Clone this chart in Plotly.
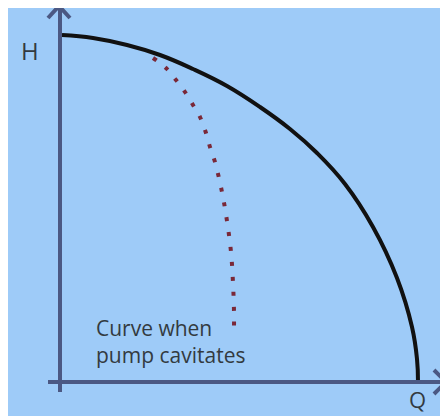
import plotly.graph_objects as go

# Normal pump curve (Q, H) in arbitrary units, origin at axes intersection
pump_q = [2, 33, 67, 100, 133, 167, 200, 230, 257, 285, 313, 337, 352, 357, 358]
pump_h = [347, 344, 337, 327, 313, 296, 275, 253, 229, 198, 155, 104, 55, 23, 0]

# Curve when pump cavitates
cav_q = [93, 106, 116, 125, 133, 140, 146, 150, 155, 162, 167, 171, 173, 174, 174]
cav_h = [324, 314, 302, 290, 277, 265, 249, 235, 220, 190, 161, 130, 99, 70, 54]

x_label = "Q"
y_label = "H"
note = "Curve when<br>pump cavitates"

BG = "#9ecbf8"
AXIS = "#4b5883"

fig = go.Figure()
fig.add_trace(go.Scatter(x=pump_q, y=pump_h, mode="lines",
                         line=dict(color="#111111", width=4, shape="spline", smoothing=1.2),
                         hoverinfo="skip"))
fig.add_trace(go.Scatter(x=cav_q, y=cav_h, mode="lines",
                         line=dict(color="#7a2838", width=4, shape="spline", dash="4px,11px"),
                         hoverinfo="skip"))

shapes = [
    dict(type="line", x0=0, y0=-10, x1=0, y1=376, line=dict(color=AXIS, width=4)),
    dict(type="line", x0=-12, y0=0, x1=386, y1=0, line=dict(color=AXIS, width=4)),
    dict(type="path", path="M -12,364 L -1,376 L 10,364", line=dict(color=AXIS, width=4)),
    dict(type="path", path="M 374,12 L 386,0 L 374,-12", line=dict(color=AXIS, width=4)),
]

annotations = [
    dict(x=-30, y=332, text=y_label, showarrow=False, font=dict(size=24, color="#333a40", family="Open Sans")),
    dict(x=357, y=-17, text=x_label, showarrow=False, font=dict(size=22, color="#333a40", family="Open Sans")),
    dict(x=34, y=41, text=note, showarrow=False, xanchor="left", align="left",
         font=dict(size=21, color="#333a40", family="Open Sans")),
]

fig.update_layout(
    width=440, height=408,
    margin=dict(l=0, r=0, t=0, b=0),
    paper_bgcolor=BG, plot_bgcolor=BG,
    showlegend=False,
    shapes=shapes, annotations=annotations,
    xaxis=dict(range=[-52, 388], visible=False, fixedrange=True),
    yaxis=dict(range=[-34, 374], visible=False, fixedrange=True),
)

fig.write_html("out.html")
